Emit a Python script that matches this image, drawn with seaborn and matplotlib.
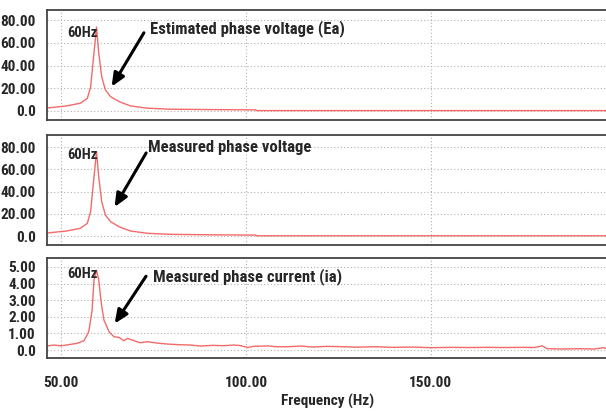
import matplotlib
matplotlib.use("Agg")
import matplotlib.pyplot as plt
import seaborn as sns
import pandas as pd
from matplotlib import font_manager

# ---- data ----
freq_ea = [46.2, 48, 51.5, 55.2, 57.1, 58.0, 58.9, 59.6, 60.2, 61.0, 62.0, 63.4, 65.7, 68.8, 73.4, 79.6, 90, 102.7, 102.9, 150, 198]
val_ea = [2.6, 3.2, 4.4, 6.8, 11, 21, 51, 74, 51, 30, 18.5, 12.6, 8.2, 4.4, 2.4, 1.5, 1.2, 0.9, 0.3, 0.3, 0.3]

freq_vm = [46.2, 48, 51.5, 55.2, 57.1, 58.0, 58.9, 59.6, 60.2, 61.0, 62.0, 63.4, 65.7, 68.8, 73.4, 79.6, 90, 102.7, 102.9, 150, 198]
val_vm = [2.8, 3.4, 4.6, 7.0, 11.5, 22, 53, 76, 53, 31, 19, 13, 8.4, 4.6, 2.5, 1.6, 1.2, 0.9, 0.3, 0.3, 0.3]

freq_ia = [46.2, 48, 50, 52, 54.3, 56.2, 57.5, 58.4, 58.9, 59.6, 60.2, 60.9, 61.6, 63.0, 64.3, 65.7, 67.0, 68.0, 69.8, 71.3, 73.4, 76, 78.7, 82, 85, 87.8, 91, 94, 96.8, 98.5, 100.5, 102, 106, 108, 111.4, 115, 118, 122, 126, 130, 135, 140, 145, 150, 155, 160, 165, 170, 175, 178, 180.2, 181.5, 185, 190, 194, 196.8, 198]
val_ia = [0.24, 0.3, 0.25, 0.32, 0.4, 0.56, 1.1, 2.4, 4.2, 4.8, 4.2, 2.8, 1.8, 1.1, 0.8, 0.76, 0.56, 0.7, 0.56, 0.44, 0.5, 0.42, 0.36, 0.32, 0.3, 0.24, 0.28, 0.26, 0.3, 0.27, 0.15, 0.22, 0.25, 0.2, 0.2, 0.24, 0.18, 0.22, 0.2, 0.17, 0.2, 0.16, 0.18, 0.14, 0.16, 0.15, 0.16, 0.15, 0.16, 0.15, 0.25, 0.08, 0.06, 0.08, 0.06, 0.14, 0.05]

yticks_v = [0, 20, 40, 60, 80]
yticklabels_v = ["0.0", "20.00", "40.00", "60.00", "80.00"]
yticks_i = [0, 1, 2, 3, 4, 5]
yticklabels_i = ["0.0", "1.00", "2.00", "3.00", "4.00", "5.00"]
xticks = [50, 100, 150]
xticklabels = ["50.00", "100.00", "150.00"]

labels = ["Estimated phase voltage (Ea)", "Measured phase voltage", "Measured phase current (ia)"]

sns.set_style("white")
names = {f.name for f in font_manager.fontManager.ttflist}
fam = "DejaVu Sans"
for cand in ["Roboto Condensed", "Open Sans Condensed", "Arial Narrow", "Liberation Sans Narrow",
             "Archivo Narrow", "Asap Condensed", "Barlow Semi Condensed"]:
    if cand in names:
        fam = cand
        break
plt.rcParams["font.family"] = [fam, "DejaVu Sans"]
plt.rcParams["font.weight"] = "bold"

fig = plt.figure(figsize=(6.06, 4.15), dpi=100)
L, W = 47 / 606, 1.0 - 47 / 606 + 0.003
H = 415.0
boxes = [(10, 120), (135, 245), (258, 358)]
xlim = (46.2, 197.9)

datasets = [
    (freq_ea, val_ea, (-8, 89), yticks_v, yticklabels_v, (55.7, 68.6), (63.3, 19.3), (72.8, 71), (74.0, 73)),
    (freq_vm, val_vm, (-8, 91), yticks_v, yticklabels_v, (55.7, 72.8), (64.1, 24), (73.4, 77), (73.4, 80)),
    (freq_ia, val_ia, (-0.48, 5.54), yticks_i, yticklabels_i, (55.7, 4.55), (64.1, 1.45), (73.4, 4.58), (75.0, 4.4)),
]

line_color = "#f46a6a"
for k, ((top, bot), d) in enumerate(zip(boxes, datasets)):
    fx, fy, ylim, yt, ytl, lbl60, head, tail, txt = d
    ax = fig.add_axes([L, 1 - bot / H, W, (bot - top) / H])
    df = pd.DataFrame({"f": fx, "v": fy})
    sns.lineplot(data=df, x="f", y="v", ax=ax, color=line_color, linewidth=1.0)
    ax.set_xlim(*xlim)
    ax.set_ylim(*ylim)
    ax.set_yticks(yt)
    ax.set_yticklabels(ytl, fontsize=11, fontweight="bold")
    ax.set_xticks(xticks)
    ax.grid(True, linestyle=(0, (1, 2)), color="#b0b0b0", linewidth=0.8)
    ax.tick_params(axis="both", length=0, pad=8)
    ax.set_ylabel("")
    for s in ax.spines.values():
        s.set_color("#444444")
        s.set_linewidth(1.3)
    ax.spines["right"].set_visible(False)
    if k < 2:
        ax.set_xticklabels([])
        ax.set_xlabel("")
    else:
        ax.set_xticklabels(xticklabels, fontsize=11, fontweight="bold")
        ax.tick_params(axis="x", pad=13)
        ax.set_xlabel("Frequency (Hz)", fontsize=11, fontweight="bold", labelpad=3)
    ax.text(lbl60[0], lbl60[1], "60Hz", fontsize=10.5, fontweight="bold", ha="center", va="center")
    ax.annotate("", xy=head, xytext=tail,
                arrowprops=dict(arrowstyle="-|>,head_length=0.8,head_width=0.35", color="black", lw=2.2))
    ax.text(txt[0], txt[1], labels[k], fontsize=12, fontweight="bold", ha="left", va="center")

fig.savefig("out.png", dpi=100)
